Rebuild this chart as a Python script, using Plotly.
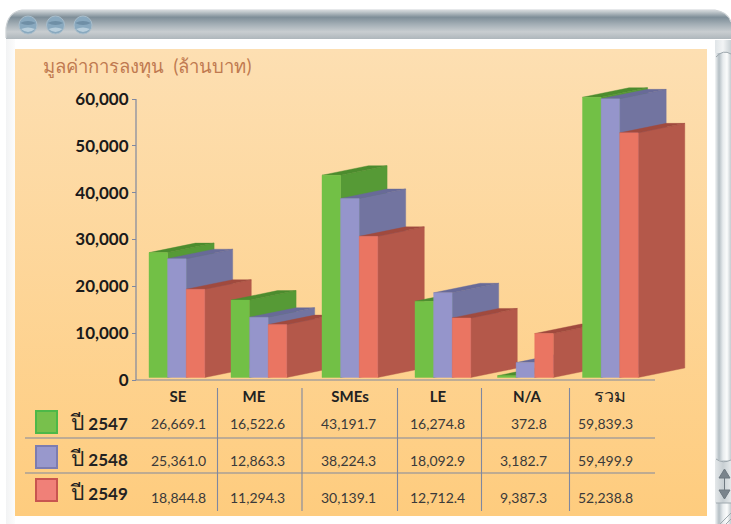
import plotly.graph_objects as go

# ---- data ----
categories = ["SE", "ME", "SMEs", "LE", "N/A", "รวม"]
years = ["2547", "2548", "2549"]
y2547 = [26669.1, 16522.6, 43191.7, 16274.8, 372.8, 59839.3]
y2548 = [25361.0, 12863.3, 38224.3, 18092.9, 3182.7, 59499.9]
y2549 = [18844.8, 11294.3, 30139.1, 12712.4, 9387.3, 52238.8]
y_ticks = [0, 10000, 20000, 30000, 40000, 50000, 60000]

series = [y2547, y2548, y2549]

# ---- layout constants (all in window pixels) ----
W, H = 731, 524
AXIS_X, AXIS_Y, AXIS_TOP_Y, AXIS_END_X = 136, 380, 99, 655
PX_PER_UNIT = 46.83 / 10000
VALUE_TOP = AXIS_Y / PX_PER_UNIT
GROUP_LEFT = [149, 231, 322, 415, 497.5, 582.5]
COL_CENTER = [178, 254, 350, 438, 527, 610]
COL_RIGHT = [208, 286.5, 378, 467, 548.5, 635]
COL_LINES = [217.5, 302, 397.5, 481.5, 569.5]
BAR_W = 18.6
DEPTH_X = 46.5
DEPTH_Y = 9.5 / PX_PER_UNIT
FLOOR = 2.5 / PX_PER_UNIT
ROW_Y = [423.5, 460.5, 497.5]
LABEL_Y = [421, 457, 491]
ROW_LINES = [438, 473]
SWATCH_Y = [411, 446, 479]

FRONT = ["#72C046", "#9595CB", "#EA7562"]
SIDE = ["#569A36", "#7274A0", "#B4584A"]
TOP = ["#4C8C2E", "#686A98", "#A04A3E"]
SW_EDGE = ["#4DB848", "#7C7CB0", "#C85550"]
SW_FILL = ["#78C04C", "#9898CC", "#F08078"]
LINE = "#7F88A0"
FONT = "Lato, 'Noto Sans', sans-serif"


def px(x):
    return x / W


def py(y):
    return 1 - y / H


fig = go.Figure()
shapes = []
annotations = []


def grad_rect(x0, y0, x1, y1, kind, stops):
    scale = [[i / (len(stops) - 1), c] for i, c in enumerate(stops)]
    fig.add_trace(go.Scatter(
        x=[x0, x1, x1, x0, x0], y=[y0, y0, y1, y1, y0], mode="lines",
        line=dict(width=0), fill="toself",
        fillgradient=dict(type=kind, colorscale=scale),
        hoverinfo="skip", showlegend=False, xaxis="x", yaxis="y"))


# window chrome
grad_rect(6, 10, 731, 39, "vertical", ["#AEB6BB", "#C8CDD0", "#A4AFB6", "#7E8E98", "#D8DCDE"])
grad_rect(6, 39, 15, 524, "horizontal", ["#F2F3F4", "#FCFCFC"])
grad_rect(15, 49, 707, 516, "vertical", ["#FECC7E", "#FDDFB2"])
grad_rect(715, 40, 731, 524, "horizontal", ["#F4F6F7", "#B4BEC4", "#E8ECEE", "#FBFCFC", "#C4CCD0"])
grad_rect(715, 40, 731, 53, "horizontal", ["#E0E5E8", "#F2F4F5", "#C8D0D4"])
grad_rect(715, 460, 731, 503, "horizontal", ["#E4E8EA", "#C8CFD3", "#E4E8EA"])

# white corners over the title bar ends
shapes.append(dict(type="path", xref="x", yref="y", layer="above", line=dict(width=0), fillcolor="#FFFFFF",
                   path="M 0 0 L 22 0 L 22 10 Q 8 12 6 28 L 6 39 L 0 39 Z"))
shapes.append(dict(type="path", xref="x", yref="y", layer="above", line=dict(width=0), fillcolor="#FFFFFF",
                   path="M 731 0 L 715 0 L 715 10 Q 728 12 731 22 Z"))
shapes.append(dict(type="path", xref="x", yref="y", layer="above", line=dict(color="#CDD2D5", width=1.2),
                   path="M 6 38 L 6 28 Q 8 12 22 10 L 715 10 Q 728 12 731 22"))
for bx in [28, 55.5, 83]:
    shapes.append(dict(type="circle", xref="x", yref="y", layer="above",
                       x0=bx - 9, x1=bx + 9, y0=16, y1=34, line=dict(color="#A8BDCB", width=1), fillcolor="#89A9BF"))
    shapes.append(dict(type="path", xref="x", yref="y", layer="above", line=dict(width=0), fillcolor="#6F8FA6",
                       path=f"M {bx-8} 23 Q {bx} 19 {bx+8} 23 Q {bx} 27 {bx-8} 23 Z"))
    shapes.append(dict(type="path", xref="x", yref="y", layer="above", line=dict(width=0), fillcolor="#B8CEDC",
                       path=f"M {bx-7} 29 Q {bx} 35 {bx+7} 29 Q {bx} 26 {bx-7} 29 Z"))
# scrollbar arrows, thumb caps and grip
for pth in ["M 719 478 L 730 478 L 724.5 469 Z", "M 719 490 L 730 490 L 724.5 499 Z", "M 724.5 478 L 724.5 490 Z"]:
    shapes.append(dict(type="path", xref="x", yref="y", layer="above", line=dict(color="#6E7880", width=1),
                       fillcolor="#7A848C", path=pth))
for pth in ["M 716 57 Q 723 49 731 54", "M 716 459 Q 723 464 731 460", "M 716 503 L 731 503",
            "M 720 524 L 731 513", "M 726 524 L 731 519"]:
    shapes.append(dict(type="path", xref="x", yref="y", layer="above", line=dict(color="#9EA8AE", width=1), path=pth))

# chart, on its own subplot so it lies above the chrome
for g, left in enumerate(GROUP_LEFT):
    for s, values in enumerate(series):
        v = values[g] + FLOOR
        x0 = left + s * BAR_W
        x1 = x0 + BAR_W
        polys = [
            ([x1, x1 + DEPTH_X, x1 + DEPTH_X, x1, x1], [FLOOR, FLOOR + DEPTH_Y, v + DEPTH_Y, v, FLOOR], SIDE[s]),
            ([x0, x0 + DEPTH_X, x1 + DEPTH_X, x1, x0], [v, v + DEPTH_Y, v + DEPTH_Y, v, v], TOP[s]),
            ([x0, x1, x1, x0, x0], [FLOOR, FLOOR, v, v, FLOOR], FRONT[s]),
        ]
        for xs, ys, color in polys:
            fig.add_trace(go.Scatter(
                x=xs, y=ys, mode="lines", fill="toself", fillcolor=color,
                line=dict(color=color, width=0.4),
                hoverinfo="skip", showlegend=False, xaxis="x2", yaxis="y2"))

# axis lines
shapes.append(dict(type="line", xref="x", yref="y", layer="above", x0=AXIS_X, x1=AXIS_X, y0=AXIS_TOP_Y, y1=AXIS_Y,
                   line=dict(color=LINE, width=1.2)))
shapes.append(dict(type="line", xref="x", yref="y", layer="above", x0=AXIS_X, x1=AXIS_END_X, y0=AXIS_Y, y1=AXIS_Y,
                   line=dict(color=LINE, width=1.2)))

# table grid
for lx in COL_LINES:
    shapes.append(dict(type="line", xref="x", yref="y", layer="above", x0=lx, x1=lx, y0=388, y1=511,
                       line=dict(color=LINE, width=1.1)))
for ly in ROW_LINES:
    shapes.append(dict(type="line", xref="x", yref="y", layer="above", x0=25, x1=655, y0=ly, y1=ly,
                       line=dict(color=LINE, width=1.1)))

# table rows
for r, values in enumerate(series):
    shapes.append(dict(type="rect", xref="x", yref="y", layer="above", x0=36, x1=57,
                       y0=SWATCH_Y[r], y1=SWATCH_Y[r] + 22,
                       line=dict(color=SW_EDGE[r], width=2), fillcolor=SW_FILL[r]))
    annotations.append(dict(xref="paper", yref="paper", x=px(68), y=py(LABEL_Y[r]), xanchor="left", yanchor="middle",
                            text=f"<span style='font-size:21px'>ปี</span> <b>{years[r]}</b>", showarrow=False,
                            font=dict(family=FONT, size=17, color="#222222")))
    for c, val in enumerate(values):
        annotations.append(dict(xref="paper", yref="paper", x=px(COL_RIGHT[c]), y=py(ROW_Y[r]),
                                xanchor="right", yanchor="middle", text=f"{val:,.1f}", showarrow=False,
                                font=dict(family=FONT, size=14, color="#3A3A3A")))

fig.update_layout(
    width=W, height=H, autosize=False,
    margin=dict(l=0, r=0, t=0, b=0, pad=0, autoexpand=False),
    paper_bgcolor="#FFFFFF", plot_bgcolor="rgba(0,0,0,0)",
    showlegend=False,
    title=dict(text="มูลค่าการลงทุน  (ล้านบาท)", x=px(43), xanchor="left", y=py(67), yanchor="middle",
               font=dict(family=FONT, size=18.5, color="#C07A50")),
    xaxis=dict(domain=[0, 1], range=[0, W], visible=False, fixedrange=True),
    yaxis=dict(domain=[0, 1], range=[H, 0], visible=False, fixedrange=True),
    xaxis2=dict(domain=[0, 1], range=[0, W], anchor="y2", tickmode="array", tickvals=COL_CENTER,
                ticktext=[f"<b>{c}</b>" if c.isascii() else f"<span style='font-size:18px'>{c}</span>"
                          for c in categories],
                ticks="outside", ticklen=3,
                tickcolor="rgba(0,0,0,0)", showgrid=False, zeroline=False, showline=False,
                tickfont=dict(family=FONT, size=15, color="#222222"), fixedrange=True),
    yaxis2=dict(domain=[1 - AXIS_Y / H, 1], range=[0, VALUE_TOP], anchor="free", position=px(AXIS_X),
                tickmode="array", tickvals=y_ticks, tickformat=",d", ticks="outside", ticklen=4,
                tickcolor=LINE, tickwidth=1, showgrid=False, zeroline=False, showline=False,
                tickfont=dict(family=FONT, size=17, color="#1A1A1A", weight="bold"), fixedrange=True),
    shapes=shapes, annotations=annotations,
)

fig.write_html("out.html", config={"displayModeBar": False},
               post_script="document.body.style.margin='0';document.body.style.overflow='hidden';")
